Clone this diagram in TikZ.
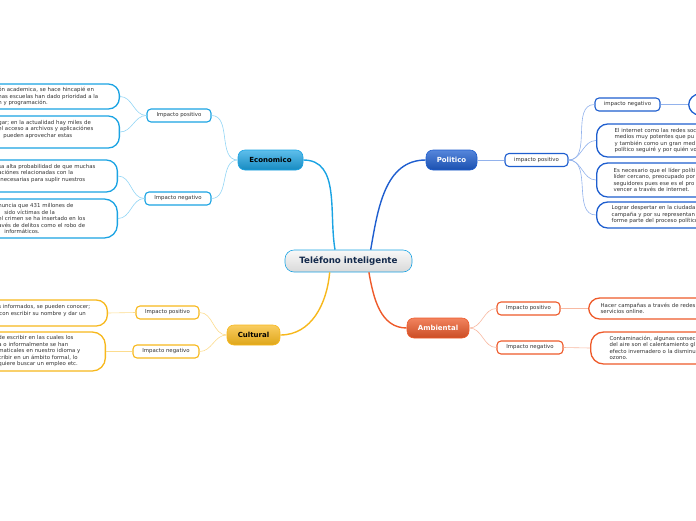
\documentclass[tikz,border=0pt]{standalone}
\usepackage{fontspec}
\setmainfont{DejaVu Sans}
\usetikzlibrary{positioning}

\definecolor{ecomain}{HTML}{1AA3E3}
\definecolor{ecolight}{HTML}{92D5F5}
\definecolor{polmain}{HTML}{1E5ECF}
\definecolor{pollight}{HTML}{92B2EC}
\definecolor{culmain}{HTML}{F7B81C}
\definecolor{cullight}{HTML}{FCDC8E}
\definecolor{ambmain}{HTML}{EE5A2A}
\definecolor{amblight}{HTML}{F8B9A2}
\definecolor{txtgray}{HTML}{333333}
\definecolor{centretext}{HTML}{13294B}

\tikzset{
	main/.style={draw, rounded corners=7pt, line width=0.6pt, minimum height=20pt,
		font=\fontsize{7}{8}\selectfont\bfseries},
	sub/.style={draw, fill=white, rounded corners=4pt, line width=1.1pt, minimum height=13pt,
		inner xsep=2pt, text=txtgray, font=\fontsize{5.4}{6.5}\selectfont},
	leaf/.style={draw, fill=white, rounded corners=11pt, line width=1.3pt, inner ysep=2pt,
		align=left, text=txtgray, font=\fontsize{5.4}{6.5}\selectfont},
	bigline/.style={line width=1.4pt},
	smallline/.style={line width=0.6pt}
}

\begin{document}
\begin{tikzpicture}[x=1pt,y=1pt]
	\useasboundingbox (0,0) rectangle (696,-520);
	\clip (0,0) rectangle (696,-520);
	% central topic and main branches
	\node[main, draw=ecomain, top color=gray!5, bottom color=gray!30,
		minimum width=127pt, minimum height=22pt, rounded corners=9pt, text=centretext,
		font=\fontsize{8.7}{10}\selectfont\bfseries] (0) at (348.5,-261) {Teléfono inteligente};
	\node[main, draw=ecomain, top color=ecomain!70!white, bottom color=ecomain!85!black,
		minimum width=65pt] (1) at (270.5,-160) {Economico};
	\node[main, draw=polmain, top color=polmain!75!white, bottom color=polmain!85!black,
		minimum width=51pt, text=white] (2) at (451.5,-160) {Politico};
	\node[main, draw=culmain, top color=culmain!70!white, bottom color=culmain!90!black,
		minimum width=53pt] (3) at (253.5,-335) {Cultural};
	\node[main, draw=ambmain, top color=ambmain!75!white, bottom color=ambmain!85!black,
		minimum width=62pt, text=white] (4) at (438,-328) {Ambiental};
	% subtopics
	\node[sub, draw=ecomain, minimum width=64pt] (5) at (179,-115.5) {Impacto positivo};
	\node[sub, draw=ecomain, minimum width=66pt] (6) at (178,-198.5) {Impacto negativo};
	\node[sub, draw=polmain, minimum width=63pt] (7) at (536.5,-160) {impacto positivo};
	\node[sub, draw=polmain, minimum width=65pt] (8) at (627.5,-104.5) {impacto negativo};
	\node[sub, draw=ambmain, minimum width=63pt] (9) at (528.5,-308.5) {Impacto positivo};
	\node[sub, draw=ambmain, minimum width=66pt] (10) at (530,-347.5) {Impacto negativo};
	\node[sub, draw=culmain, minimum width=63pt] (11) at (167.5,-312.5) {Impacto positivo};
	\node[sub, draw=culmain, minimum width=66pt] (12) at (166,-351.5) {Impacto negativo};
	% Economico leaves
	\node[leaf, draw=ecomain, anchor=east, text width=106pt, inner xsep=15pt, minimum height=25pt]
		(13) at (120,-96.5) {ón academica, se hace hincapié en\\nas escuelas han dado prioridad a la\\n y programación.};
	\node[leaf, draw=ecomain, anchor=east, text width=106pt, inner xsep=15pt, minimum height=32pt]
		(14) at (120,-132) {gar; en la actualidad hay miles de\\el acceso a archivos y aplicaciónes\\\hspace*{5pt}pueden aprovechar estas\\~};
	\node[leaf, draw=ecomain, anchor=east, text width=104pt, inner xsep=15pt, minimum height=32pt]
		(15) at (118,-176) {sa alta probabilidad de que muchas\\aciónes relacionadas con la\\\hspace*{2pt}necesarias para suplir nuestros\\~};
	\node[leaf, draw=ecomain, anchor=east, text width=104pt, inner xsep=15pt, minimum height=39pt, rounded corners=13pt]
		(16) at (118,-218.5) {nuncia que 431 millones de\\\hspace*{6pt}sido víctimas de la\\el crimen se ha insertado en los\\avés de delitos como el robo de\\\hspace*{6pt}informáticos.};
	% Cultural leaves
	\node[leaf, draw=culmain, anchor=east, text width=100pt, inner xsep=9pt, minimum height=26pt]
		(17) at (108,-313) {s informados, se pueden conocer;\\\hspace*{1pt}con escribir su nombre y dar un\\~};
	\node[leaf, draw=culmain, anchor=east, text width=96pt, inner xsep=11pt, minimum height=39pt, rounded corners=13pt]
		(18) at (106,-351.5) {de escribir en las cuales los\\a o informalmente se han\\maticales en nuestro idioma y\\cribir en un ámbito formal, lo\\quiere buscar un empleo etc.};
	% Politico leaves
	\node[leaf, draw=polmain, anchor=west, text width=160pt, inner xsep=18pt, minimum height=33pt]
		(19) at (596,-140.5) {El internet como las redes soc\\medios muy potentes que pu\\y también como un gran med\\político seguiré y por quién vo};
	\node[leaf, draw=polmain, anchor=west, text width=160pt, inner xsep=17pt, minimum height=34pt]
		(20) at (596,-180) {Es necesario que el líder políti\\líder cercano, preocupado por\\seguidores pues ese es el pro\\vencer a través de internet.};
	\node[leaf, draw=polmain, anchor=west, text width=160pt, inner xsep=15pt, minimum height=26pt]
		(21) at (596,-215) {Lograr despertar en la ciudada\\campaña y por su representan\\forme parte del proceso político};
	\node[leaf, draw=polmain, anchor=west, minimum width=60pt, minimum height=21pt] (22) at (688,-104.5) {};
	% Ambiental leaves
	\node[leaf, draw=ambmain, anchor=west, text width=160pt, inner xsep=12pt, minimum height=21pt]
		(23) at (588,-308.5) {Hacer campañas a través de redes\\servicios online.};
	\node[leaf, draw=ambmain, anchor=west, text width=160pt, inner xsep=19pt, minimum height=32pt, rounded corners=13pt]
		(24) at (590,-348) {Contaminación, algunas consec\\del aire son el calentamiento gl\\efecto invernadero o la disminu\\ozono.};
	% main connectors
	\draw[bigline, ecomain] (1.east) to[out=0, in=100] (0.140);
	\draw[bigline, polmain] (0.27) to[out=80, in=180] (2.west);
	\draw[bigline, culmain] (0.211) to[out=265, in=0] (3.east);
	\draw[bigline, ambmain] (0.331) to[out=280, in=180] (4.west);
	% sub connectors
	\draw[smallline, ecolight] (1.west) to[out=180, in=0] (5.east);
	\draw[smallline, ecolight] (1.west) to[out=180, in=0] (6.east);
	\draw[smallline, ecolight] (5.west) to[out=180, in=0] (13.east);
	\draw[smallline, ecolight] (5.west) to[out=180, in=0] (14.east);
	\draw[smallline, ecolight] (6.west) to[out=180, in=0] (15.east);
	\draw[smallline, ecolight] (6.west) to[out=180, in=0] (16.east);
	\draw[smallline, pollight] (2.east) -- (7.west);
	\draw[smallline, pollight] (7.east) to[out=0, in=180] (8.west);
	\draw[smallline, pollight] (7.east) to[out=0, in=180] (19.west);
	\draw[smallline, pollight] (7.east) to[out=0, in=180] (20.west);
	\draw[smallline, pollight] (7.east) to[out=0, in=180] (21.west);
	\draw[smallline, pollight] (8.east) -- (22.west);
	\draw[smallline, amblight] (4.east) to[out=0, in=180] (9.west);
	\draw[smallline, amblight] (4.east) to[out=0, in=180] (10.west);
	\draw[smallline, amblight] (9.east) -- (23.west);
	\draw[smallline, amblight] (10.east) -- (24.west);
	\draw[smallline, cullight] (3.west) to[out=180, in=0] (11.east);
	\draw[smallline, cullight] (3.west) to[out=180, in=0] (12.east);
	\draw[smallline, cullight] (11.west) -- (17.east);
	\draw[smallline, cullight] (12.west) -- (18.east);
\end{tikzpicture}
\end{document}
